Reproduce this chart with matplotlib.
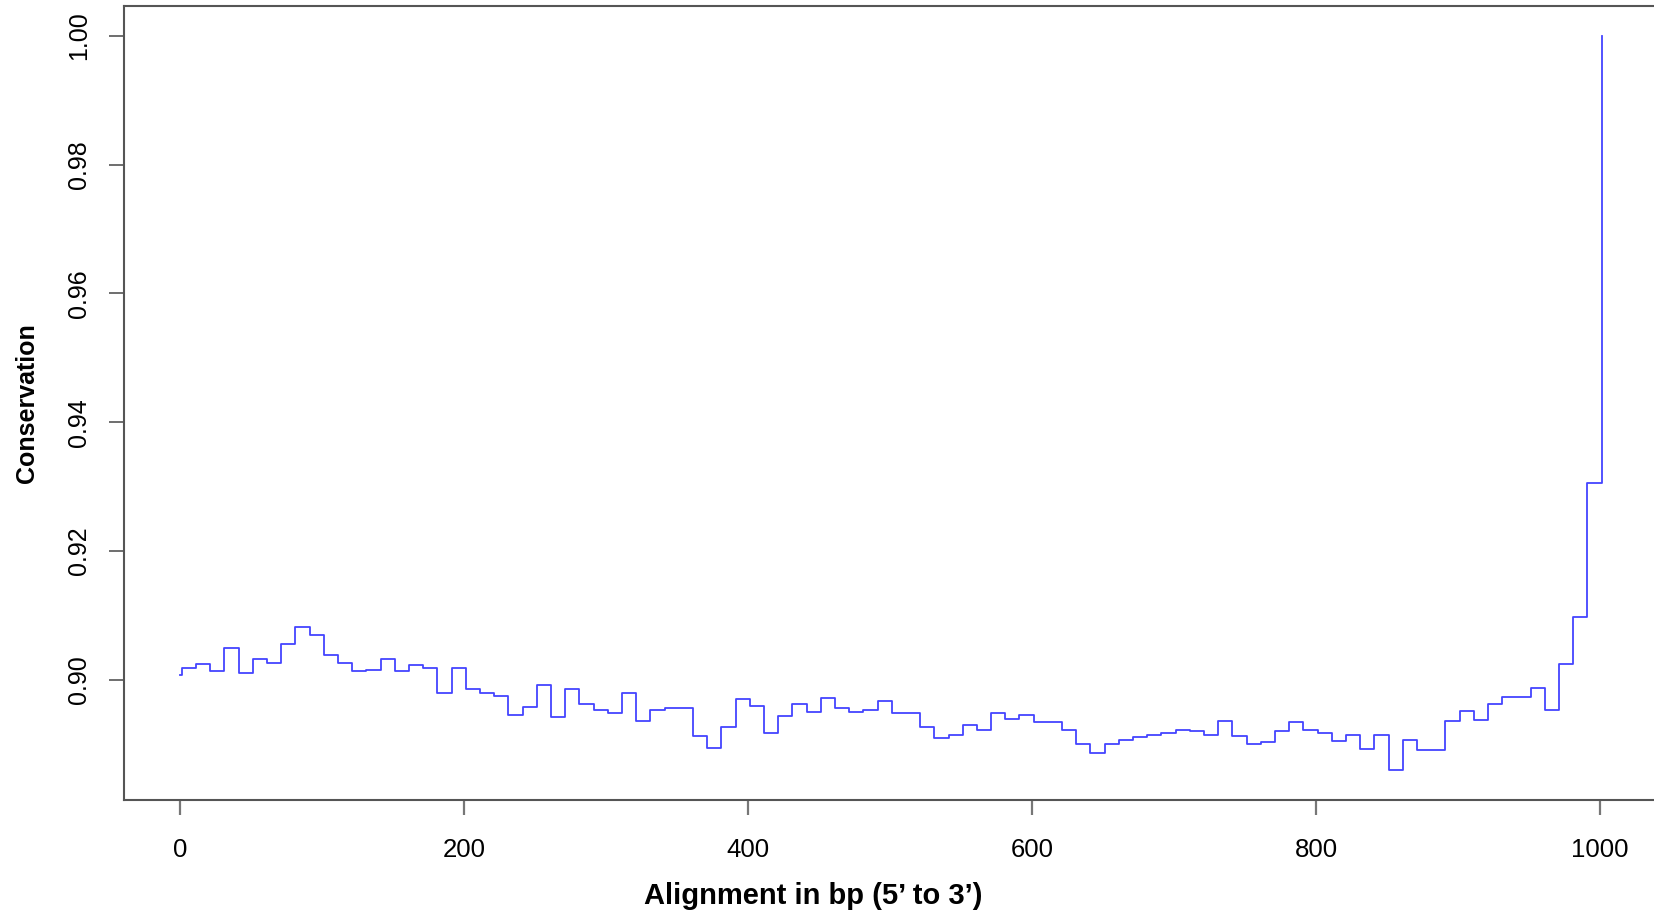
import numpy as np
import matplotlib
matplotlib.use("Agg")
import matplotlib.pyplot as plt

# ---------------------------------------------------------------------------
# Data: sliding-window conservation along the alignment (step plot)
# ---------------------------------------------------------------------------

# window start positions (bp)
positions = np.concatenate([[0], np.arange(1, 1002, 10)])

conservation = [
    0.9008,
    0.9019, 0.9025, 0.9014, 0.9049, 0.9011, 0.9033, 0.9026, 0.9056, 0.9082, 0.9070,
    0.9039, 0.9026, 0.9014, 0.9015, 0.9032, 0.9014, 0.9023, 0.9019, 0.8980, 0.9019,
    0.8986, 0.8979, 0.8975, 0.8945, 0.8958, 0.8992, 0.8943, 0.8986, 0.8963, 0.8954,
    0.8949, 0.8979, 0.8936, 0.8954, 0.8956, 0.8956, 0.8913, 0.8894, 0.8927, 0.8970,
    0.8959, 0.8917, 0.8944, 0.8963, 0.8950, 0.8972, 0.8956, 0.8950, 0.8953, 0.8967,
    0.8949, 0.8949, 0.8927, 0.8910, 0.8914, 0.8930, 0.8923, 0.8948, 0.8940, 0.8945,
    0.8935, 0.8934, 0.8923, 0.8901, 0.8887, 0.8901, 0.8906, 0.8912, 0.8914, 0.8917,
    0.8923, 0.8920, 0.8914, 0.8937, 0.8913, 0.8901, 0.8903, 0.8921, 0.8934, 0.8923,
    0.8917, 0.8905, 0.8915, 0.8893, 0.8915, 0.8860, 0.8906, 0.8891, 0.8891, 0.8936,
    0.8952, 0.8938, 0.8962, 0.8973, 0.8973, 0.8988, 0.8954, 0.9025, 0.9098, 0.9305,
    1.0000,
]

x_ticks = [0, 200, 400, 600, 800, 1000]
y_ticks = [0.90, 0.92, 0.94, 0.96, 0.98, 1.00]
x_label = "Alignment in bp (5\u2019 to 3\u2019)"
y_label = "Conservation"

# ---------------------------------------------------------------------------
# Plot
# ---------------------------------------------------------------------------

plt.rcParams["font.family"] = ["Liberation Sans", "DejaVu Sans"]

W, H = 1654, 917
fig = plt.figure(figsize=(W / 100, H / 100), dpi=100)
fig.patch.set_facecolor("white")

# R-style 4% padding on both axes
x_min, x_max = positions.min(), positions.max()
x_pad = (x_max - x_min) * 0.04
y_min, y_max = min(conservation), max(conservation)
y_pad = (y_max - y_min) * 0.04

left_px, top_px, bottom_px = 123.6, 6.3, 799.5
px_per_bp = 1.4197
width_px = (x_max - x_min + 2 * x_pad) * px_per_bp
ax = fig.add_axes([
    left_px / W,
    (H - bottom_px) / H,
    width_px / W,
    (bottom_px - top_px) / H,
])

ax.step(positions, conservation, where="post", color="#4444ff", linewidth=1.3)

ax.set_xlim(x_min - x_pad, x_max + x_pad)
ax.set_ylim(y_min - y_pad, y_max + y_pad)

ax.set_xticks(x_ticks)
ax.set_xticklabels([str(t) for t in x_ticks])
ax.set_yticks(y_ticks)
ax.set_yticklabels([f"{t:.2f}" for t in y_ticks], rotation=90, va="center")

ax.tick_params(axis="x", direction="out", length=11, width=1.6, color="#777777",
               labelsize=18.5, pad=17)
ax.tick_params(axis="y", direction="out", length=11, width=1.2, color="#555555",
               labelsize=18, pad=12.5)

for side in ["left", "right", "top", "bottom"]:
    ax.spines[side].set_color("#555555")
    ax.spines[side].set_linewidth(1.5)

ax.set_xlabel(x_label, fontsize=21, fontweight="bold")
ax.xaxis.set_label_coords((813 - left_px) / width_px, -(896 - bottom_px) / (bottom_px - top_px))
ax.xaxis.label.set_va("center")
ax.set_ylabel(y_label, fontsize=18, fontweight="bold")
ax.yaxis.set_label_coords(-(left_px - 27) / width_px, 0.5)
ax.yaxis.label.set_va("center")

fig.savefig("out.png", dpi=100)
